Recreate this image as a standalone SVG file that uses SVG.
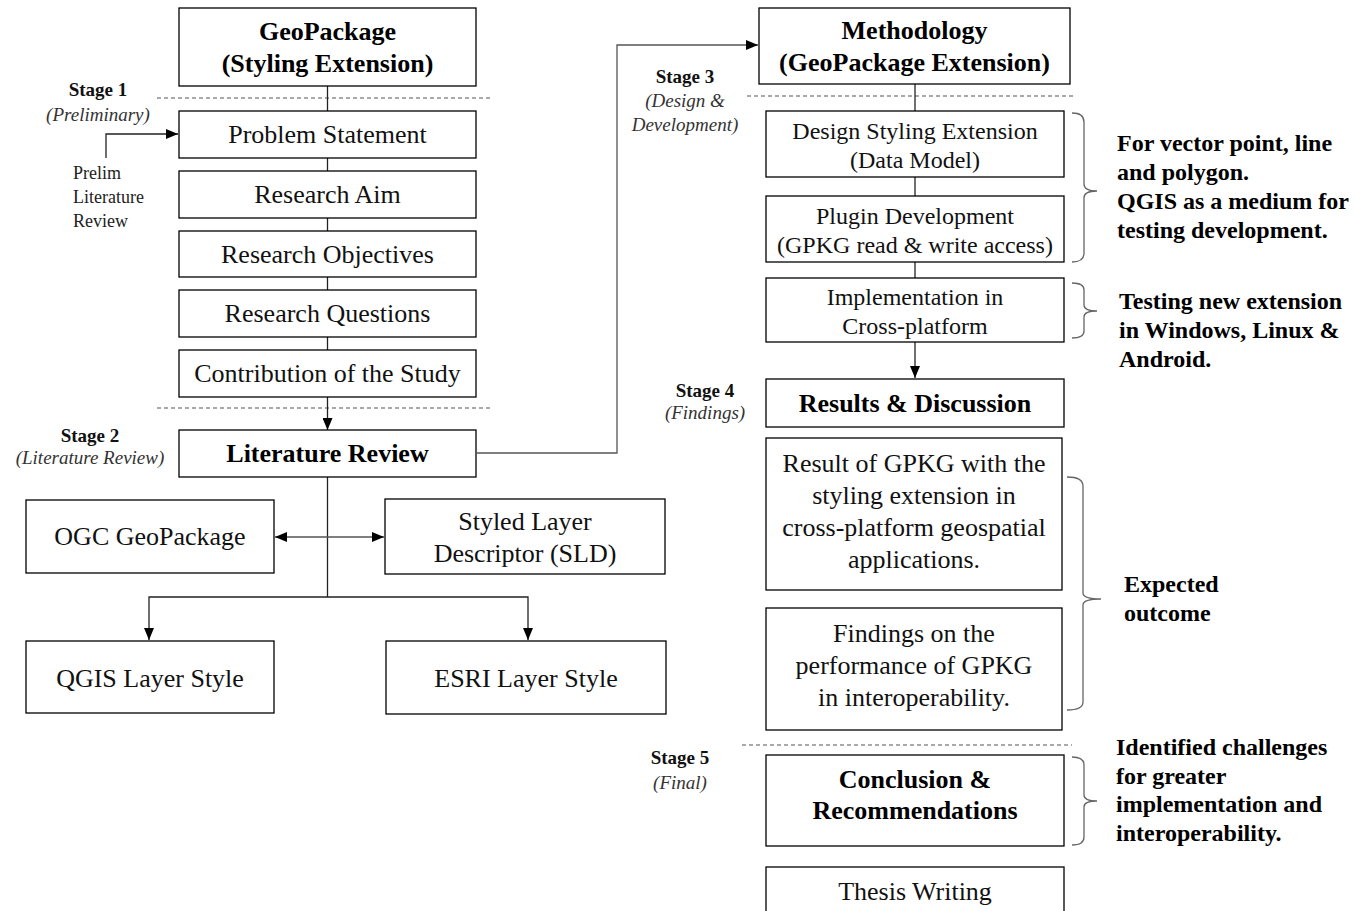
<svg xmlns="http://www.w3.org/2000/svg" width="1355" height="911" viewBox="0 0 1355 911">
<defs>
<marker id="ah" viewBox="0 0 12 10" refX="12" refY="5" markerWidth="12" markerHeight="10" markerUnits="userSpaceOnUse" orient="auto-start-reverse"><path d="M0,0 L12,5 L0,10 z" fill="#000"/></marker>
<style>
.box{fill:#fff;stroke:#000;stroke-width:1.3}
.t{font-family:"Liberation Serif","Times New Roman",serif;font-size:26px;fill:#111;text-anchor:middle}
.tb{font-family:"Liberation Serif","Times New Roman",serif;font-size:26px;font-weight:bold;fill:#000;text-anchor:middle}
.ts{font-family:"Liberation Serif","Times New Roman",serif;font-size:24px;fill:#111;text-anchor:middle}
.st{font-family:"Liberation Serif","Times New Roman",serif;font-size:19px;font-weight:bold;fill:#111;text-anchor:middle}
.it{font-family:"Liberation Serif","Times New Roman",serif;font-size:19px;font-style:italic;fill:#333;text-anchor:middle}
.pl{font-family:"Liberation Serif","Times New Roman",serif;font-size:18px;fill:#222}
.note{font-family:"Liberation Serif","Times New Roman",serif;font-size:24px;font-weight:bold;fill:#000}
.ln{fill:none;stroke:#222;stroke-width:1.3}
.dash{fill:none;stroke:#555;stroke-width:1.2;stroke-dasharray:4 3}
.brace{fill:none;stroke:#666;stroke-width:1.3}
</style>
</defs>
<rect width="1355" height="911" fill="#fff"/>

<g id="dividers">
<line class="dash" x1="157" y1="98" x2="490" y2="98"/>
<line class="dash" x1="157" y1="408" x2="490" y2="408"/>
<line class="dash" x1="747" y1="96" x2="1075" y2="96"/>
<line class="dash" x1="742" y1="745" x2="1072" y2="745"/>
</g>

<g id="connectors">
<line class="ln" x1="327.5" y1="86" x2="327.5" y2="111"/>
<line class="ln" x1="327.5" y1="158" x2="327.5" y2="171"/>
<line class="ln" x1="327.5" y1="218" x2="327.5" y2="231"/>
<line class="ln" x1="327.5" y1="277" x2="327.5" y2="290"/>
<line class="ln" x1="327.5" y1="337" x2="327.5" y2="350"/>
<line class="ln" x1="327.5" y1="397" x2="327.5" y2="430" marker-end="url(#ah)"/>
<path class="ln" d="M106,158 V134 H178" marker-end="url(#ah)"/>
<path class="ln" d="M477,453 H617 V45 H758" marker-end="url(#ah)" style="stroke:#555"/>
<line class="ln" x1="327.5" y1="477" x2="327.5" y2="597"/>
<line class="ln" x1="275" y1="537" x2="384" y2="537" marker-start="url(#ah)" marker-end="url(#ah)" style="stroke:#555"/>
<path class="ln" d="M149,640 V597 H528 V640" marker-start="url(#ah)" marker-end="url(#ah)"/>
<line class="ln" x1="915" y1="84" x2="915" y2="111"/>
<line class="ln" x1="915" y1="177" x2="915" y2="196"/>
<line class="ln" x1="915" y1="262" x2="915" y2="278"/>
<line class="ln" x1="915" y1="342" x2="915" y2="378" marker-end="url(#ah)"/>
</g>

<g id="braces">
<path class="brace" d="M1072,113 Q1084,113 1084,122 V184 Q1084,191 1097,191 Q1084,191 1084,198 V253 Q1084,262 1072,262"/>
<path class="brace" d="M1072,283 Q1084,283 1084,290 V305 Q1084,311 1097,311 Q1084,311 1084,317 V331 Q1084,338 1072,338"/>
<path class="brace" d="M1067,477 Q1083,477 1083,486 V593 Q1083,599 1101,599 Q1083,599 1083,605 V702 Q1083,710 1067,710"/>
<path class="brace" d="M1072,757 Q1084,757 1084,765 V795 Q1084,801 1097,801 Q1084,801 1084,807 V837 Q1084,845 1072,845"/>
</g>

<g id="stage-labels">
<text class="st" x="98" y="96">Stage 1</text>
<text class="it" x="98" y="121">(Preliminary)</text>
<text class="st" x="90" y="442">Stage 2</text>
<text class="it" x="90" y="464">(Literature Review)</text>
<text class="st" x="685" y="83">Stage 3</text>
<text class="it" x="685" y="107">(Design &amp;</text>
<text class="it" x="685" y="131">Development)</text>
<text class="st" x="705" y="397">Stage 4</text>
<text class="it" x="705" y="419">(Findings)</text>
<text class="st" x="680" y="764">Stage 5</text>
<text class="it" x="680" y="789">(Final)</text>
</g>

<g id="prelim-note">
<text class="pl" x="73" y="179">Prelim</text>
<text class="pl" x="73" y="203">Literature</text>
<text class="pl" x="73" y="227">Review</text>
</g>

<g id="n-geopackage"><rect class="box" x="179" y="8" width="297" height="78"/><text class="tb" x="327.5" y="40">GeoPackage</text><text class="tb" x="327.5" y="72">(Styling Extension)</text></g>
<g id="n-problem"><rect class="box" x="179" y="111" width="297" height="47"/><text class="t" x="327.5" y="143">Problem Statement</text></g>
<g id="n-aim"><rect class="box" x="179" y="171" width="297" height="47"/><text class="t" x="327.5" y="203">Research Aim</text></g>
<g id="n-objectives"><rect class="box" x="179" y="231" width="297" height="46"/><text class="t" x="327.5" y="263">Research Objectives</text></g>
<g id="n-questions"><rect class="box" x="179" y="290" width="297" height="47"/><text class="t" x="327.5" y="322">Research Questions</text></g>
<g id="n-contribution"><rect class="box" x="179" y="350" width="297" height="47"/><text class="t" x="327.5" y="382">Contribution of the Study</text></g>
<g id="n-litreview"><rect class="box" x="179" y="430" width="297" height="47"/><text class="tb" x="327.5" y="462">Literature Review</text></g>
<g id="n-ogc"><rect class="box" x="26" y="500" width="248" height="73"/><text class="t" x="150" y="545">OGC GeoPackage</text></g>
<g id="n-sld"><rect class="box" x="385" y="499" width="280" height="75"/><text class="t" x="525" y="530">Styled Layer</text><text class="t" x="525" y="562">Descriptor (SLD)</text></g>
<g id="n-qgis"><rect class="box" x="26" y="641" width="248" height="72"/><text class="t" x="150" y="687">QGIS Layer Style</text></g>
<g id="n-esri"><rect class="box" x="386" y="641" width="280" height="73"/><text class="t" x="526" y="687">ESRI Layer Style</text></g>

<g id="n-methodology"><rect class="box" x="759" y="8" width="311" height="76"/><text class="tb" x="914.5" y="39">Methodology</text><text class="tb" x="914.5" y="71">(GeoPackage Extension)</text></g>
<g id="n-design"><rect class="box" x="766" y="111" width="298" height="66"/><text class="ts" x="915" y="139">Design Styling Extension</text><text class="ts" x="915" y="168">(Data Model)</text></g>
<g id="n-plugin"><rect class="box" x="766" y="196" width="298" height="66"/><text class="ts" x="915" y="224">Plugin Development</text><text class="ts" x="915" y="253">(GPKG read &amp; write access)</text></g>
<g id="n-impl"><rect class="box" x="766" y="278" width="298" height="64"/><text class="ts" x="915" y="305">Implementation in</text><text class="ts" x="915" y="334">Cross-platform</text></g>
<g id="n-results"><rect class="box" x="766" y="379" width="298" height="48"/><text class="tb" x="915" y="412">Results &amp; Discussion</text></g>
<g id="n-result-gpkg"><rect class="box" x="766" y="438" width="296" height="152"/><text class="t" x="914" y="472">Result of GPKG with the</text><text class="t" x="914" y="504">styling extension in</text><text class="t" x="914" y="536">cross-platform geospatial</text><text class="t" x="914" y="568">applications.</text></g>
<g id="n-findings"><rect class="box" x="766" y="608" width="296" height="122"/><text class="t" x="914" y="642">Findings on the</text><text class="t" x="914" y="674">performance of GPKG</text><text class="t" x="914" y="706">in interoperability.</text></g>
<g id="n-conclusion"><rect class="box" x="766" y="755" width="298" height="91"/><text class="tb" x="915" y="788">Conclusion &amp;</text><text class="tb" x="915" y="819">Recommendations</text></g>
<g id="n-thesis"><rect class="box" x="766" y="867" width="298" height="60"/><text class="t" x="915" y="900">Thesis Writing</text></g>

<g id="notes">
<text class="note" x="1117" y="151">For vector point, line</text>
<text class="note" x="1117" y="180">and polygon.</text>
<text class="note" x="1117" y="209">QGIS as a medium for</text>
<text class="note" x="1117" y="238">testing development.</text>
<text class="note" x="1119" y="309">Testing new extension</text>
<text class="note" x="1119" y="338">in Windows, Linux &amp;</text>
<text class="note" x="1119" y="367">Android.</text>
<text class="note" x="1124" y="592">Expected</text>
<text class="note" x="1124" y="621">outcome</text>
<text class="note" x="1116" y="755">Identified challenges</text>
<text class="note" x="1116" y="784">for greater</text>
<text class="note" x="1116" y="812">implementation and</text>
<text class="note" x="1116" y="841">interoperability.</text>
</g>
</svg>
